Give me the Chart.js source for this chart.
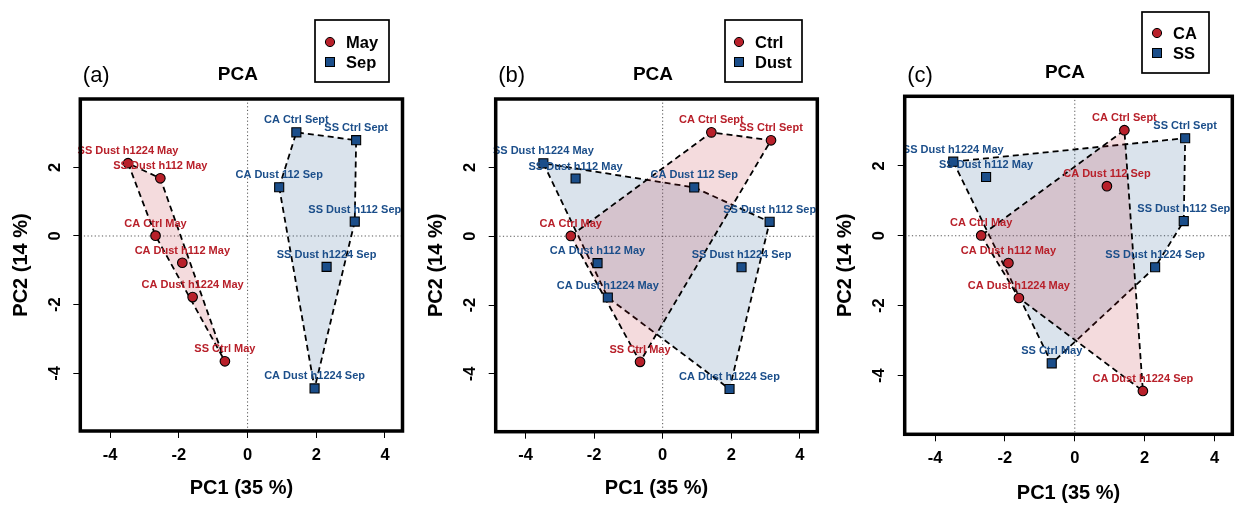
<!DOCTYPE html>
<html>
<head>
<meta charset="utf-8">
<script src="https://cdn.jsdelivr.net/npm/chart.js@4.4.1/dist/chart.umd.min.js"></script>
<style>
  body { margin: 0; background: #fff; }
  #wrap { position: relative; width: 1246px; height: 516px; background: #fff; overflow: hidden; }
  #wrap canvas { position: absolute; top: 0; }
</style>
</head>
<body>
<div id="wrap">
  <canvas id="pcaA"></canvas>
  <canvas id="pcaB"></canvas>
  <canvas id="pcaC"></canvas>
</div>
<script>
// PCA scores
const samples = ["SS Dust h1224 May", "SS Dust h112 May", "CA Ctrl May", "CA Dust h112 May", "CA Dust h1224 May", "SS Ctrl May",
                 "CA Ctrl Sept", "SS Ctrl Sept", "CA Dust 112 Sep", "SS Dust h112 Sep", "SS Dust h1224 Sep", "CA Dust h1224 Sep"];
const pc1 = [-3.48, -2.54, -2.68, -1.90, -1.60, -0.66, 1.42, 3.16, 0.92, 3.12, 2.30, 1.95];
const pc2 = [2.12, 1.68, 0.01, -0.78, -1.78, -3.65, 3.02, 2.79, 1.42, 0.42, -0.90, -4.44];
const month = ["May", "May", "May", "May", "May", "May", "Sep", "Sep", "Sep", "Sep", "Sep", "Sep"];
const treatment = ["Dust", "Dust", "Ctrl", "Dust", "Dust", "Ctrl", "Ctrl", "Ctrl", "Dust", "Dust", "Dust", "Dust"];
const site = ["SS", "SS", "CA", "CA", "CA", "SS", "CA", "SS", "CA", "SS", "SS", "CA"];
const xTicks = [-4, -2, 0, 2, 4];
const yTicks = [-4, -2, 0, 2];

const RED = "#B8202A", BLUE = "#1B4E8A";
const COLS = [RED, BLUE];
const FILLS = ["rgba(184,32,42,0.16)", "rgba(27,78,138,0.16)"];
const FONT = "'Liberation Sans', Arial, sans-serif";
const H = 516;

// panel layout (pixels)
const panels = [
  { id: "pcaA", left: 0, width: 410, tag: "(a)", groups: month, keys: ["May", "Sep"],
    area: { left: 80.3, right: 402.7, top: 99, bottom: 431 }, tickY: 24, titleY: 488,
    legend: { x: 315, y: 20, w: 74, h: 62, mx: 330, tx: 346, r1: 42, r2: 62 }, tagDy: 23 },
  { id: "pcaB", left: 410, width: 416, tag: "(b)", groups: treatment, keys: ["Ctrl", "Dust"],
    area: { left: 85.7, right: 407.3, top: 99, bottom: 431.7 }, tickY: 24, titleY: 488,
    legend: { x: 315, y: 20, w: 77, h: 62, mx: 329, tx: 345, r1: 42, r2: 62 }, tagDy: 23 },
  { id: "pcaC", left: 826, width: 420, tag: "(c)", groups: site, keys: ["CA", "SS"],
    area: { left: 78.7, right: 406.3, top: 96.3, bottom: 434.3 }, tickY: 24.5, titleY: 493,
    legend: { x: 316, y: 12, w: 67, h: 61, mx: 331, tx: 347, r1: 33, r2: 53 }, tagDy: 20 }
];

function hull(pts) {
  const p = pts.slice().sort((a, b) => a.x - b.x || a.y - b.y);
  const cross = (o, a, b) => (a.x - o.x) * (b.y - o.y) - (a.y - o.y) * (b.x - o.x);
  const lower = [], upper = [];
  for (const q of p) {
    while (lower.length >= 2 && cross(lower[lower.length - 2], lower[lower.length - 1], q) <= 0) lower.pop();
    lower.push(q);
  }
  for (const q of p.slice().reverse()) {
    while (upper.length >= 2 && cross(upper[upper.length - 2], upper[upper.length - 1], q) <= 0) upper.pop();
    upper.push(q);
  }
  lower.pop(); upper.pop();
  const h = lower.concat(upper);
  h.push(h[0]);
  return h;
}

function decoPlugin(p) {
  return {
    id: "deco",
    beforeDatasetsDraw(chart) {
      const { ctx, chartArea: a, scales: { x, y } } = chart;
      const x0 = x.getPixelForValue(0), y0 = y.getPixelForValue(0);
      ctx.save();
      ctx.strokeStyle = "#555";
      ctx.lineWidth = 1;
      ctx.setLineDash([1.2, 2.4]);
      ctx.beginPath();
      ctx.moveTo(x0, a.top); ctx.lineTo(x0, a.bottom);
      ctx.moveTo(a.left, y0); ctx.lineTo(a.right, y0);
      ctx.stroke();
      ctx.restore();
    },
    afterDatasetsDraw(chart) {
      const { ctx, chartArea: a, scales: { x, y } } = chart;
      ctx.save();
      ctx.font = "bold 11px " + FONT;
      ctx.textAlign = "center";
      ctx.textBaseline = "middle";
      samples.forEach((s, i) => {
        ctx.fillStyle = COLS[p.keys.indexOf(p.groups[i])];
        ctx.fillText(s, x.getPixelForValue(pc1[i]), y.getPixelForValue(pc2[i]) - 12);
      });
      // box
      ctx.strokeStyle = "#000";
      ctx.lineWidth = 3.5;
      ctx.strokeRect(a.left, a.top, a.right - a.left, a.bottom - a.top);
      // title and tag
      ctx.fillStyle = "#000";
      ctx.font = "bold 19px " + FONT;
      ctx.fillText("PCA", (a.left + a.right) / 2 - 3.5, a.top - 24);
      ctx.textAlign = "left";
      ctx.font = "22px " + FONT;
      ctx.fillText(p.tag, a.left + 2.5, a.top - p.tagDy);
      // legend
      const L = p.legend;
      ctx.lineWidth = 1.7;
      ctx.strokeRect(L.x, L.y, L.w, L.h);
      ctx.lineWidth = 1;
      ctx.fillStyle = RED;
      ctx.beginPath(); ctx.arc(L.mx, L.r1, 4.6, 0, Math.PI * 2); ctx.fill(); ctx.stroke();
      ctx.fillStyle = BLUE;
      ctx.fillRect(L.mx - 4.5, L.r2 - 4.5, 9, 9); ctx.strokeRect(L.mx - 4.5, L.r2 - 4.5, 9, 9);
      ctx.fillStyle = "#000";
      ctx.font = "bold 16.5px " + FONT;
      ctx.fillText(p.keys[0], L.tx, L.r1 + 1);
      ctx.fillText(p.keys[1], L.tx, L.r2 + 1);
      ctx.restore();
    }
  };
}

function buildPanel(p) {
  const cv = document.getElementById(p.id);
  cv.width = p.width; cv.height = H;
  cv.style.left = p.left + "px";
  cv.style.width = p.width + "px"; cv.style.height = H + "px";

  const datasets = [];
  p.keys.forEach((k, gi) => {
    const pts = [];
    samples.forEach((s, i) => { if (p.groups[i] === k) pts.push({ x: pc1[i], y: pc2[i] }); });
    datasets.push({
      data: hull(pts), showLine: true, fill: "shape", backgroundColor: FILLS[gi],
      borderColor: "#000", borderWidth: 1.8, borderDash: [6, 4], pointRadius: 0, order: 2
    });
    datasets.push({
      data: pts, showLine: false, pointStyle: gi === 0 ? "circle" : "rect",
      pointRadius: gi === 0 ? 4.8 : 6.4, backgroundColor: COLS[gi],
      borderColor: "#000", borderWidth: 1.1, order: 1
    });
  });

  const tickFont = { family: FONT, size: 16.5, weight: "bold" };
  const titleFont = { family: FONT, size: 20, weight: "bold" };
  const tickLen = 7;

  new Chart(cv, {
    type: "scatter",
    data: { datasets },
    options: {
      responsive: false, animation: false, devicePixelRatio: 1, events: [],
      layout: { padding: { left: 0, top: p.area.top, right: p.width - p.area.right, bottom: 0 } },
      plugins: { legend: { display: false }, tooltip: { enabled: false } },
      scales: {
        x: {
          type: "linear", min: -4.87, max: 4.51,
          afterBuildTicks: s => { s.ticks = xTicks.map(v => ({ value: v })); },
          afterFit: s => { s.height = H - p.area.bottom; },
          border: { display: false },
          grid: { drawOnChartArea: false, drawTicks: true, tickLength: tickLen, color: "#000", lineWidth: 1 },
          ticks: { font: tickFont, color: "#000", padding: p.tickY - tickLen - 9.9, maxRotation: 0 },
          title: { display: true, text: "PC1 (35 %)", font: titleFont, color: "#000",
                   padding: { top: 0, bottom: H - p.titleY - 12 } }
        },
        y: {
          type: "linear", min: -5.68, max: 3.99,
          afterBuildTicks: s => { s.ticks = yTicks.map(v => ({ value: v })); },
          afterFit: s => { s.width = p.area.left; },
          border: { display: false },
          grid: { drawOnChartArea: false, drawTicks: true, tickLength: tickLen, color: "#000", lineWidth: 1 },
          ticks: { font: tickFont, color: "#000", minRotation: 90, maxRotation: 90, crossAlign: "center", padding: 10.5 },
          title: { display: true, text: "PC2 (14 %)", font: titleFont, color: "#000",
                   padding: { top: p.area.left - 59 - 12, bottom: 0 } }
        }
      }
    },
    plugins: [decoPlugin(p)]
  });
}

panels.forEach(buildPanel);
</script>
</body>
</html>
